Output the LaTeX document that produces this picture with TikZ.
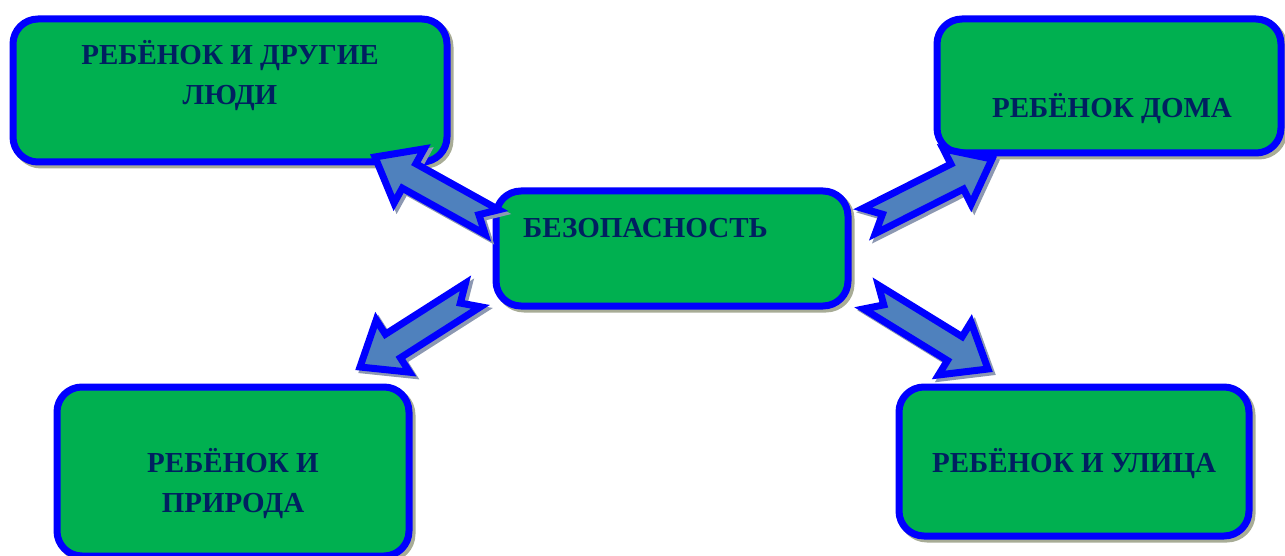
\documentclass[tikz,border=0pt]{standalone}
\usepackage{fontspec}
\setmainfont{Liberation Serif}
\usetikzlibrary{positioning,calc}

\definecolor{boxgreen}{RGB}{0,176,80}
\definecolor{rimblue}{RGB}{0,0,255}
\definecolor{arrowfill}{RGB}{79,129,189}
\definecolor{textnavy}{RGB}{0,32,96}
\definecolor{boxshade}{RGB}{168,172,150}
\definecolor{arrowshade}{RGB}{140,152,178}

\tikzset{
  topic/.style={draw=rimblue, line width=7pt, fill=boxgreen, rounded corners=25pt,
    inner sep=0pt, outer sep=0pt,
    preaction={draw=boxshade, fill=boxshade, line width=7pt, transform canvas={shift={(3pt,-3pt)}}}},
  caption/.style={text=textnavy, font=\bfseries\fontsize{29}{40}\selectfont, align=center, inner sep=0pt},
  arrowbody/.style={draw=rimblue, line width=7pt, fill=arrowfill, line join=miter,
    preaction={draw=arrowshade, fill=arrowshade, line width=7pt, transform canvas={shift={(3pt,-3pt)}}}},
}

% notched block arrow from #1 to #2
\newcommand{\blockarrow}[2]{%
  \coordinate (#1-neck) at ($(#2)!39pt!(#1)$);
  \draw[arrowbody] ($(#1)!14pt!90:(#2)$) -- ($(#1)!15pt!(#2)$) -- ($(#1)!14pt!-90:(#2)$)
    -- ($(#1-neck)!14pt!-90:(#2)$) -- ($(#1-neck)!31pt!-90:(#2)$) -- (#2)
    -- ($(#1-neck)!31pt!90:(#2)$) -- ($(#1-neck)!14pt!90:(#2)$) -- cycle;
}

\begin{document}
\begin{tikzpicture}[x=1pt, y=-1pt]
 \useasboundingbox (0,0) rectangle (1285,556);
 % boxes
 \node[topic, minimum width=434pt, minimum height=143pt] (others) at (230,90.5) {};
 \node[topic, minimum width=344pt, minimum height=134pt] (home) at (1109,86) {};
 \node[topic, minimum width=352pt, minimum height=115pt] (safety) at (672,248.5) {};
 \node[topic, minimum width=352pt, minimum height=169pt] (nature) at (233,471.5) {};
 \node[topic, minimum width=350pt, minimum height=149pt] (street) at (1074,461.5) {};
 % captions
 \node[caption, anchor=base] (others_txt) at ($(others.center)+(0,14.5)$) {РЕБЁНОК И ДРУГИЕ\\ЛЮДИ};
 \node[caption, anchor=base] (home_txt) at ($(home.center)+(3,32)$) {РЕБЁНОК ДОМА};
 \node[caption, anchor=base] (safety_txt) at ($(safety.center)+(-26.5,-11.5)$) {БЕЗОПАСНОСТЬ};
 \node[caption, anchor=base] (nature_txt) at ($(nature.center)+(0,40.5)$) {РЕБЁНОК И\\ПРИРОДА};
 \node[caption, anchor=base] (street_txt) at ($(street.center)+(0,10.5)$) {РЕБЁНОК И УЛИЦА};
 % arrow ends
 \coordinate (to_others) at ($(safety.west)+(-4,-26.5)$);
 \coordinate (to_nature) at ($(safety.west)+(-23,46.5)$);
 \coordinate (to_home) at ($(safety.east)+(21,-27.5)$);
 \coordinate (to_street) at ($(safety.east)+(23,48.5)$);
 \coordinate (others_tip) at ($(others.south east)+(-72,-5)$);
 \coordinate (nature_tip) at ($(nature.north east)+(-49,-20)$);
 \coordinate (home_tip) at ($(home.south west)+(55,6)$);
 \coordinate (street_tip) at ($(street.north west)+(89,-18)$);
 \blockarrow{to_others}{others_tip}
 \blockarrow{to_nature}{nature_tip}
 \blockarrow{to_home}{home_tip}
 \blockarrow{to_street}{street_tip}
\end{tikzpicture}
\end{document}
